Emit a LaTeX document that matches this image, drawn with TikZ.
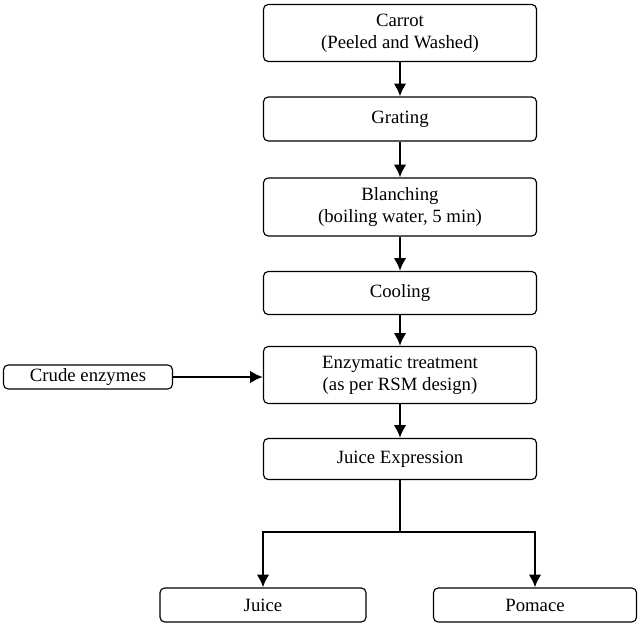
\documentclass[tikz,border=0pt]{standalone}
\usepackage{fontspec}
\setmainfont{Liberation Serif}
\usetikzlibrary{arrows.meta}
\tikzset{
  stepbox/.style={draw,line width=1pt,rounded corners=4pt,minimum width=273*0.03cm,
    align=center,inner sep=2pt,font=\fontsize{16}{19}\selectfont},
  flow/.style={line width=2.2pt,-{Latex[length=11pt,width=11pt]}}
}
\begin{document}
\begin{tikzpicture}[x=0.03cm,y=-0.03cm]
  \useasboundingbox (0,0) rectangle (639,627);

  \node[stepbox,minimum height=57*0.03cm] (carrot) at (400,33) {Carrot\\(Peeled and Washed)};
  \node[stepbox,minimum height=44*0.03cm] (grating) at (400,119) {Grating};
  \node[stepbox,minimum height=58*0.03cm] (blanch) at (400,207) {Blanching\\(boiling water, 5 min)};
  \node[stepbox,minimum height=43*0.03cm] (cool) at (400,293) {Cooling};
  \node[stepbox,minimum height=57*0.03cm] (enzyme) at (400,375) {Enzymatic treatment\\(as per RSM design)};
  \node[stepbox,minimum height=41*0.03cm] (express) at (400,459) {Juice Expression};
  \node[stepbox,minimum width=169*0.03cm,minimum height=24*0.03cm] (crude) at (88,377) {Crude enzymes};
  \node[stepbox,minimum width=206*0.03cm,minimum height=34*0.03cm] (juice) at (263,605) {Juice};
  \node[stepbox,minimum width=203*0.03cm,minimum height=34*0.03cm] (pomace) at (535,605) {Pomace};

  \draw[flow] (carrot) -- (grating);
  \draw[flow] (grating) -- (blanch);
  \draw[flow] (blanch) -- (cool);
  \draw[flow] (cool) -- (enzyme);
  \draw[flow] (enzyme) -- (express);
  \draw[flow] (crude) -- (crude -| enzyme.west);

  \coordinate (split) at (400,532);
  \draw[line width=2.2pt] (express) -- (split);
  \draw[flow] (split) -| (juice);
  \draw[flow] (split) -| (pomace);
\end{tikzpicture}
\end{document}
